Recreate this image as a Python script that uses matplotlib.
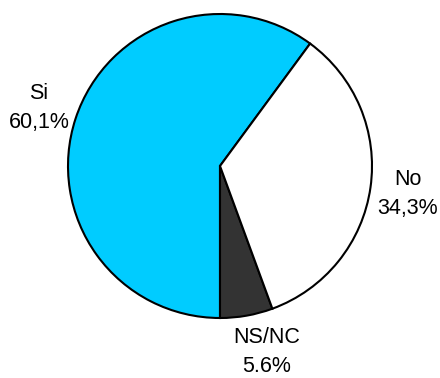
import matplotlib.pyplot as plt

labels = ["Si", "NS/NC", "No"]
pct_text = ["60,1%", "5.6%", "34,3%"]
values = [60.1, 5.6, 34.3]
colors = ["#00CCFF", "#333333", "#FFFFFF"]

plt.rcParams["font.family"] = ["Liberation Sans", "DejaVu Sans"]

fig = plt.figure(figsize=(4.4, 3.78), dpi=100)
ax = fig.add_axes([0, 0, 1, 1])

# pixel-like coordinates: x from left, y from bottom
cx, cy, r = 220, 378 - 166, 152
start = 270 - values[0] / 100 * 360

ax.pie(values, colors=colors, startangle=start, counterclock=True,
       center=(cx, cy), radius=r,
       wedgeprops=dict(edgecolor="black", linewidth=1.5))

ax.set_xlim(0, 440)
ax.set_ylim(0, 378)
ax.set_aspect("auto")
ax.axis("off")

label_pos = [(39, 378 - 108), (267, 378 - 352), (408, 378 - 194)]
for lab, pct, (x, y) in zip(labels, pct_text, label_pos):
    ax.text(x, y, f"{lab}\n{pct}", ha="center", va="center",
            fontsize=15.5, linespacing=1.45)

fig.savefig("out.png", dpi=100)
